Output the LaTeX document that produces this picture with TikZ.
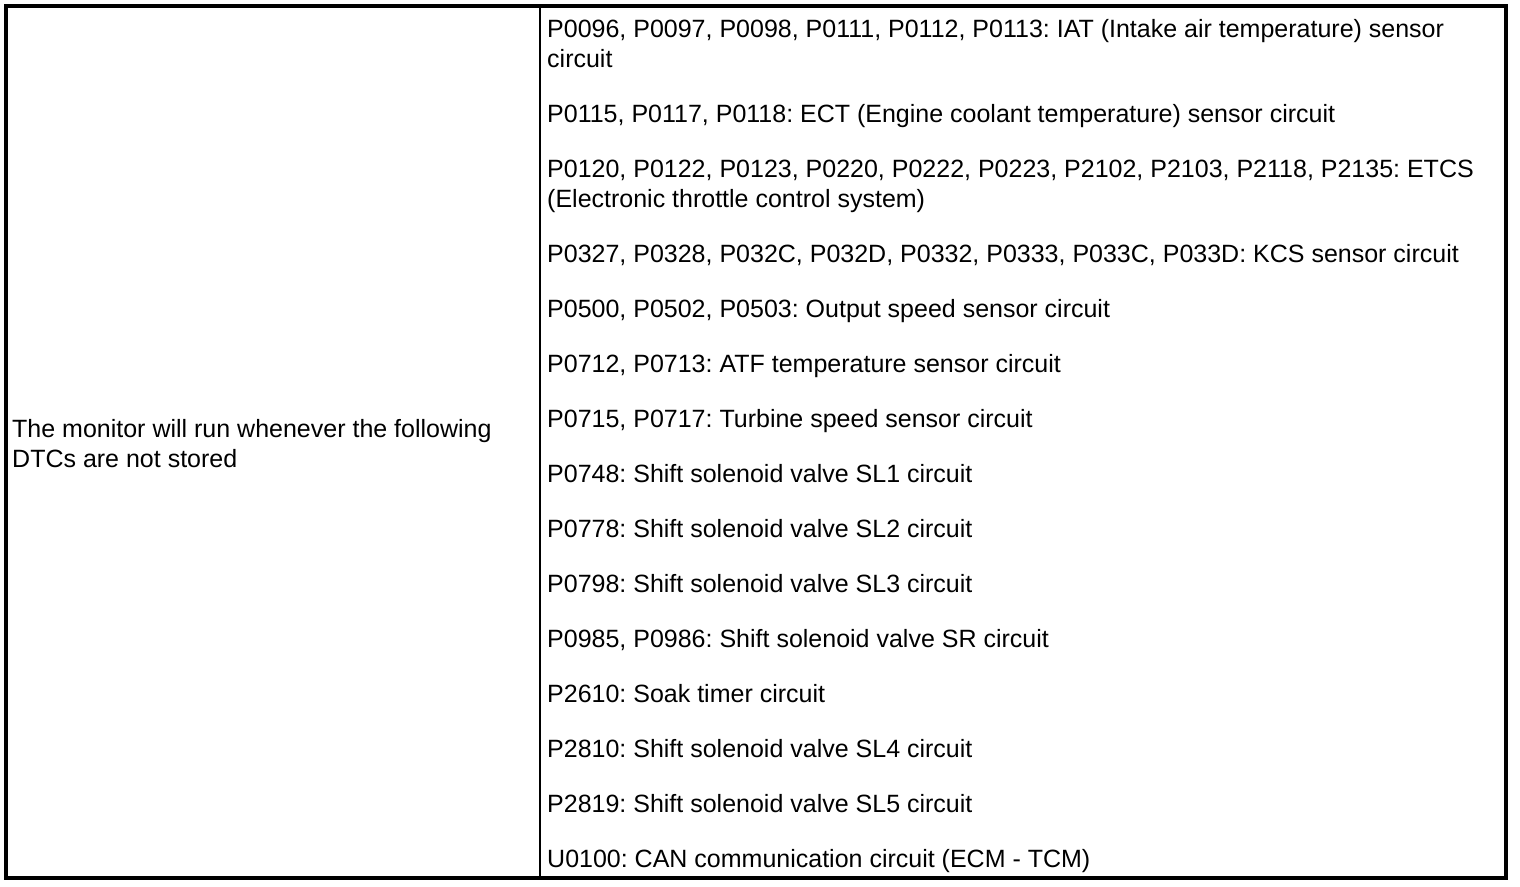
\documentclass[tikz,border=0pt]{standalone}
\usepackage{fontspec}
\setmainfont{Liberation Sans}
\frenchspacing
\newcommand{\dtcfont}{\fontsize{25}{30}\selectfont}
\tikzset{
  cell/.style={anchor=base west, align=left, inner sep=0pt, font=\dtcfont},
  frame/.style={line width=4pt},
  rule/.style={line width=1.2pt}
}

\begin{document}
\begin{tikzpicture}[x=1pt,y=-1pt]
  \useasboundingbox (0,0) rectangle (1520,886);
  %table lines
  \draw [frame] (6,6) rectangle (1506,878);
  \draw [rule] (540,6) -- (540,878);
  %left cell (base = last line)
  \node (cond) [cell] at (12,467.2) {The monitor will run whenever the following\\DTCs are not stored};
  %right cell, one node per DTC group
  \node (iat)  [cell] at (547,67.2)  {P0096, P0097, P0098, P0111, P0112, P0113: IAT (Intake air temperature) sensor\\circuit};
  \node (ect)  [cell] at (547,122.2) {P0115, P0117, P0118: ECT (Engine coolant temperature) sensor circuit};
  \node (etcs) [cell] at (547,207.2) {P0120, P0122, P0123, P0220, P0222, P0223, P2102, P2103, P2118, P2135: ETCS\\(Electronic throttle control system)};
  \node (kcs)  [cell] at (547,262.2) {P0327, P0328, P032C, P032D, P0332, P0333, P033C, P033D: KCS sensor circuit};
  \node (oss)  [cell] at (547,317.2) {P0500, P0502, P0503: Output speed sensor circuit};
  \node (atf)  [cell] at (547,372.2) {P0712, P0713: ATF temperature sensor circuit};
  \node (tss)  [cell] at (547,427.2) {P0715, P0717: Turbine speed sensor circuit};
  \node (sl1)  [cell] at (547,482.2) {P0748: Shift solenoid valve SL1 circuit};
  \node (sl2)  [cell] at (547,537.2) {P0778: Shift solenoid valve SL2 circuit};
  \node (sl3)  [cell] at (547,592.2) {P0798: Shift solenoid valve SL3 circuit};
  \node (sr)   [cell] at (547,647.2) {P0985, P0986: Shift solenoid valve SR circuit};
  \node (soak) [cell] at (547,702.2) {P2610: Soak timer circuit};
  \node (sl4)  [cell] at (547,757.2) {P2810: Shift solenoid valve SL4 circuit};
  \node (sl5)  [cell] at (547,812.2) {P2819: Shift solenoid valve SL5 circuit};
  \node (can)  [cell] at (547,867.2) {U0100: CAN communication circuit (ECM - TCM)};
\end{tikzpicture}
\end{document}
